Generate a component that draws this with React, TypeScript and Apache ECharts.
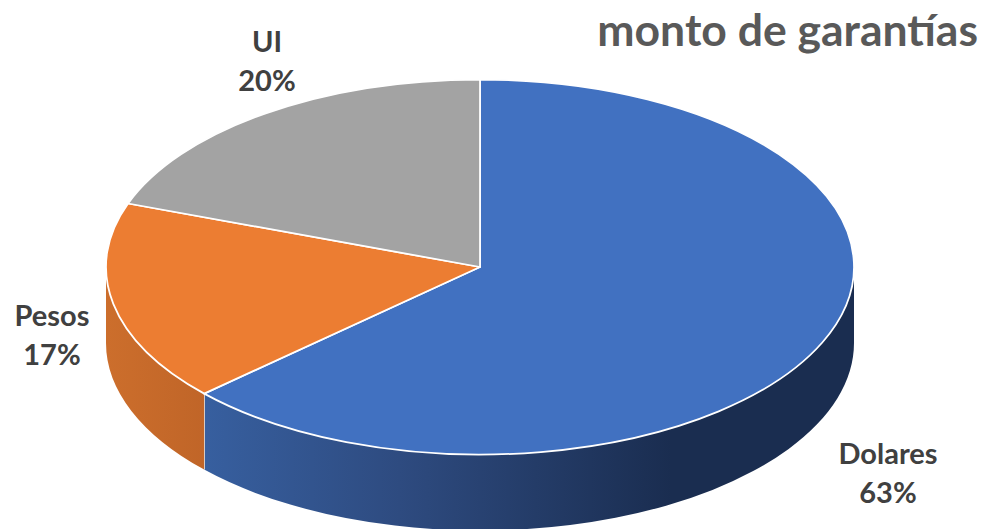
import React, { useEffect, useRef } from "react";
import * as echarts from "echarts";

const categories = ["Dolares", "Pesos", "UI"];
const shares = [63.2, 17.3, 19.5];
const sliceColors = ["#4171C1", "#EC7D32", "#A3A3A3"];
const titleText = "monto de garantías";

const CX = 480, CY = 267, RX = 374, RY = 187.5, DEPTH = 76;
const LABEL_POS = [[888, 472], [52, 334], [267, 60]];
const FONT = "Lato, Carlito, 'Open Sans', sans-serif";

const pt = (a: number, dy = 0): [number, number] => [CX + RX * Math.sin(a), CY - RY * Math.cos(a) + dy];

function renderItem(params: any, api: any) {
  const i = params.dataIndex;
  const total = shares.reduce((s, v) => s + v, 0);
  const before = shares.slice(0, i).reduce((s, v) => s + v, 0);
  const a0 = (before / total) * Math.PI * 2;
  const a1 = ((before + api.value(0)) / total) * Math.PI * 2;
  const children: any[] = [];

  const w0 = Math.max(a0, Math.PI / 2);
  const w1 = Math.min(a1, (Math.PI * 3) / 2);
  if (w1 > w0) {
    const [x0, y0] = pt(w0);
    const [x1, y1] = pt(w1);
    const large = w1 - w0 > Math.PI ? 1 : 0;
    const d = `M${x0} ${y0}A${RX} ${RY} 0 ${large} 1 ${x1} ${y1}L${x1} ${y1 + DEPTH}A${RX} ${RY} 0 ${large} 0 ${x0} ${y0 + DEPTH}Z`;
    const fill = i === 0
      ? new echarts.graphic.LinearGradient(205, 0, 853, 0, [
          { offset: 0, color: "#375F9F" },
          { offset: 0.3, color: "#2E4B80" },
          { offset: 0.72, color: "#1A2D50" },
          { offset: 1, color: "#1A2D50" },
        ], true)
      : new echarts.graphic.LinearGradient(107, 0, 205, 0, [
          { offset: 0, color: "#CC6E2C" },
          { offset: 1, color: "#C06528" },
        ], true);
    children.push({
      type: "path",
      shape: { pathData: d },
      style: { fill, stroke: "none" },
      silent: true,
    });
    if (a1 < (Math.PI * 3) / 2) {
      children.push({
        type: "line",
        shape: { x1, y1, x2: x1, y2: y1 + DEPTH },
        style: { stroke: "#E8E8E8", lineWidth: 1.5 },
      });
    }
  }

  const [sx, sy] = pt(a0);
  const [ex, ey] = pt(a1);
  const large = a1 - a0 > Math.PI ? 1 : 0;
  children.push({
    type: "path",
    shape: {
      pathData: `M${CX} ${CY}L${sx} ${sy}A${RX} ${RY} 0 ${large} 1 ${ex} ${ey}Z`,
    },
    style: { fill: sliceColors[i], stroke: "#FFFFFF", lineWidth: 1.75, lineJoin: "round" },
    z2: 5,
  });
  children.push({
    type: "text",
    x: LABEL_POS[i][0],
    y: LABEL_POS[i][1],
    style: {
      text: `${categories[i]}\n${Math.round(api.value(0))}%`,
      fill: "#404040",
      font: `bold 29px ${FONT}`,
      lineHeight: 39,
      align: "center",
      verticalAlign: "middle",
    },
    z2: 10,
  });
  return { type: "group", children };
}

export default function App() {
  const ref = useRef<HTMLDivElement>(null);
  useEffect(() => {
    document.body.style.margin = "0";
    const chart = echarts.init(ref.current!, undefined, { renderer: "svg" });
    chart.setOption({
      animation: false,
      backgroundColor: "#FFFFFF",
      title: {
        text: titleText,
        right: 4,
        top: 1,
        textStyle: { color: "#595959", fontFamily: FONT, fontWeight: "bold", fontSize: 44.5 },
      },
      series: [{
        type: "custom",
        coordinateSystem: "none",
        renderItem,
        data: shares.map((v) => [v]),
        silent: true,
      }],
    });
    return () => chart.dispose();
  }, []);
  return <div ref={ref} style={{ width: 987, height: 529 }} />;
}
